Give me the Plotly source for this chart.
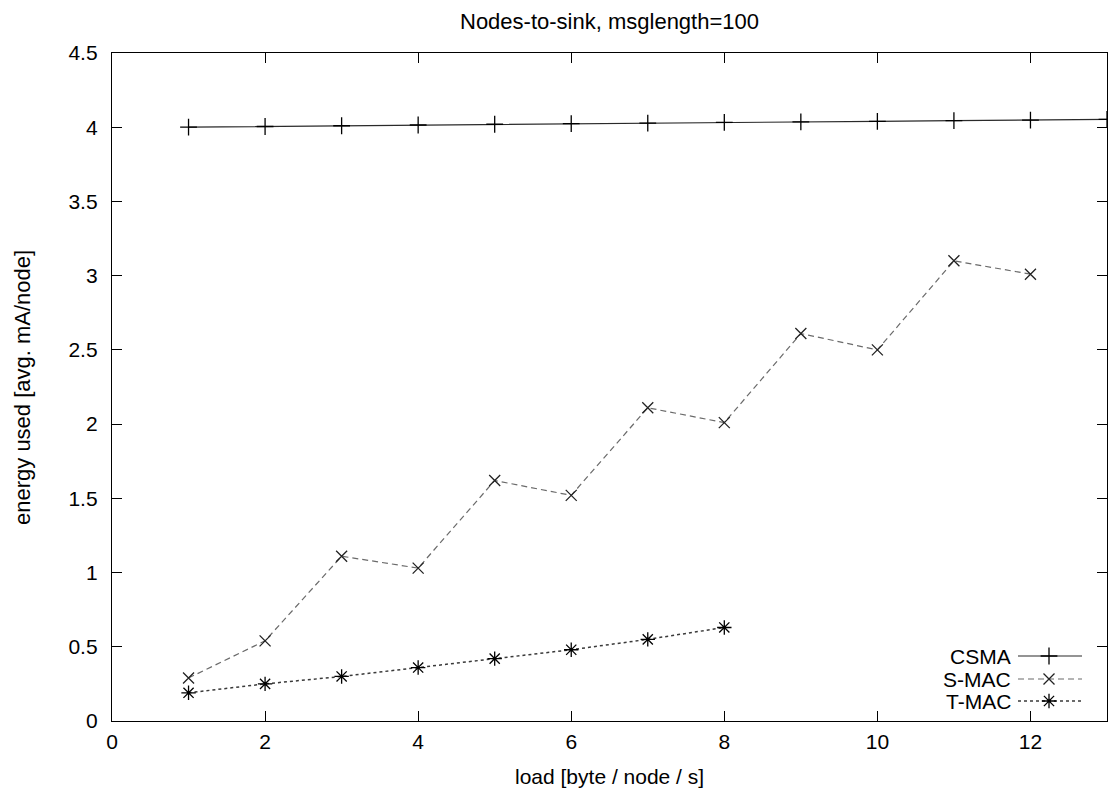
import plotly.graph_objects as go

title = "Nodes-to-sink, msglength=100"
x_label = "load [byte / node / s]"
y_label = "energy used [avg. mA/node]"

csma_x = [1, 2, 3, 4, 5, 6, 7, 8, 9, 10, 11, 12, 13]
csma_y = [4.00, 4.005, 4.01, 4.015, 4.02, 4.024, 4.028, 4.032, 4.036, 4.04, 4.044, 4.048, 4.053]

smac_x = [1, 2, 3, 4, 5, 6, 7, 8, 9, 10, 11, 12]
smac_y = [0.29, 0.54, 1.11, 1.03, 1.62, 1.52, 2.11, 2.01, 2.61, 2.50, 3.10, 3.01]

tmac_x = [1, 2, 3, 4, 5, 6, 7, 8]
tmac_y = [0.19, 0.25, 0.30, 0.36, 0.42, 0.48, 0.55, 0.63]

series_names = ["CSMA", "S-MAC", "T-MAC"]
x_ticks = [0, 2, 4, 6, 8, 10, 12]
y_ticks = [0, 0.5, 1, 1.5, 2, 2.5, 3, 3.5, 4, 4.5]

FONT = "Liberation Sans"
L, R, T, B = 112, 5, 53, 70
W, H = 1112, 791
PW, PH = W - L - R, H - T - B

styles = [
    dict(line=dict(color="#2a2a2a", width=1.2, dash="solid"),
         marker=dict(symbol="cross-thin-open", size=12, color="black",
                     line=dict(color="black", width=1.3))),
    dict(line=dict(color="#6a6a6a", width=1.2, dash="6px,4px"),
         marker=dict(symbol="x-thin-open", size=11, color="#222222",
                     line=dict(color="#222222", width=1.3))),
    dict(line=dict(color="#3a3a3a", width=1.5, dash="3px,3px"),
         marker=dict(symbol="asterisk-open", size=12, color="black",
                     line=dict(color="black", width=1.3))),
]

fig = go.Figure()
for (xs, ys), name, st in zip([(csma_x, csma_y), (smac_x, smac_y), (tmac_x, tmac_y)], series_names, styles):
    fig.add_trace(go.Scatter(x=xs, y=ys, mode="lines+markers", name=name,
                             line=st["line"], marker=st["marker"], showlegend=False,
                             cliponaxis=True))

# custom legend (text left of sample, as in the reference) on an overlay axis in [0,1]
leg_y = [(721 - 656) / PH, (721 - 679) / PH, (721 - 701) / PH]
lx0, lxm, lx1 = (1018 - L) / PW, (1049 - L) / PW, (1082 - L) / PW
ltxt = (1012 - L) / PW
for name, st, ly in zip(series_names, styles, leg_y):
    fig.add_trace(go.Scatter(x=[lx0, lxm, lx1], y=[ly, ly, ly], mode="lines",
                             line=st["line"], xaxis="x2", yaxis="y2", showlegend=False,
                             hoverinfo="skip"))
    fig.add_trace(go.Scatter(x=[lxm], y=[ly], mode="markers", marker=st["marker"],
                             xaxis="x2", yaxis="y2", showlegend=False, hoverinfo="skip"))
    fig.add_annotation(x=ltxt, y=ly, xref="x2", yref="y2", text=name, showarrow=False,
                       xanchor="right", yanchor="middle", borderpad=0,
                       font=dict(family=FONT, size=21, color="black"))

axis_common = dict(showline=True, linecolor="black", linewidth=1.3, mirror="ticks",
                   ticks="inside", ticklen=10, tickwidth=1.2, tickcolor="black",
                   showgrid=False, zeroline=False,
                   tickfont=dict(family=FONT, size=21, color="black"))

fig.update_layout(
    width=W, height=H,
    paper_bgcolor="white", plot_bgcolor="white",
    margin=dict(l=L, r=R, t=T, b=B),
    xaxis=dict(range=[0, 13], tickvals=x_ticks, ticklabelstandoff=2, **axis_common),
    yaxis=dict(range=[0, 4.5], tickvals=y_ticks, ticklabelstandoff=9, **axis_common),
    xaxis2=dict(range=[0, 1], overlaying="x", visible=False),
    yaxis2=dict(range=[0, 1], overlaying="y", visible=False),
    showlegend=False,
    title=dict(text=title, x=0.5, xref="paper", y=1 - 21 / H, yref="container",
               xanchor="center", yanchor="middle",
               font=dict(family=FONT, size=22, color="black")),
)

fig.add_annotation(x=0.5, y=-(776 - 721) / PH, xref="paper", yref="paper",
                   text=x_label, showarrow=False, xanchor="center", yanchor="middle",
                   borderpad=0, font=dict(family=FONT, size=21, color="black"))
fig.add_annotation(x=-(L - 22) / PW, y=(721 - 388) / PH, xref="paper", yref="paper",
                   text=y_label, showarrow=False, textangle=-90, xanchor="center",
                   yanchor="middle", font=dict(family=FONT, size=22, color="black"))

fig.write_html("out.html", config={"displayModeBar": False},
               post_script="document.body.style.margin='0';")
